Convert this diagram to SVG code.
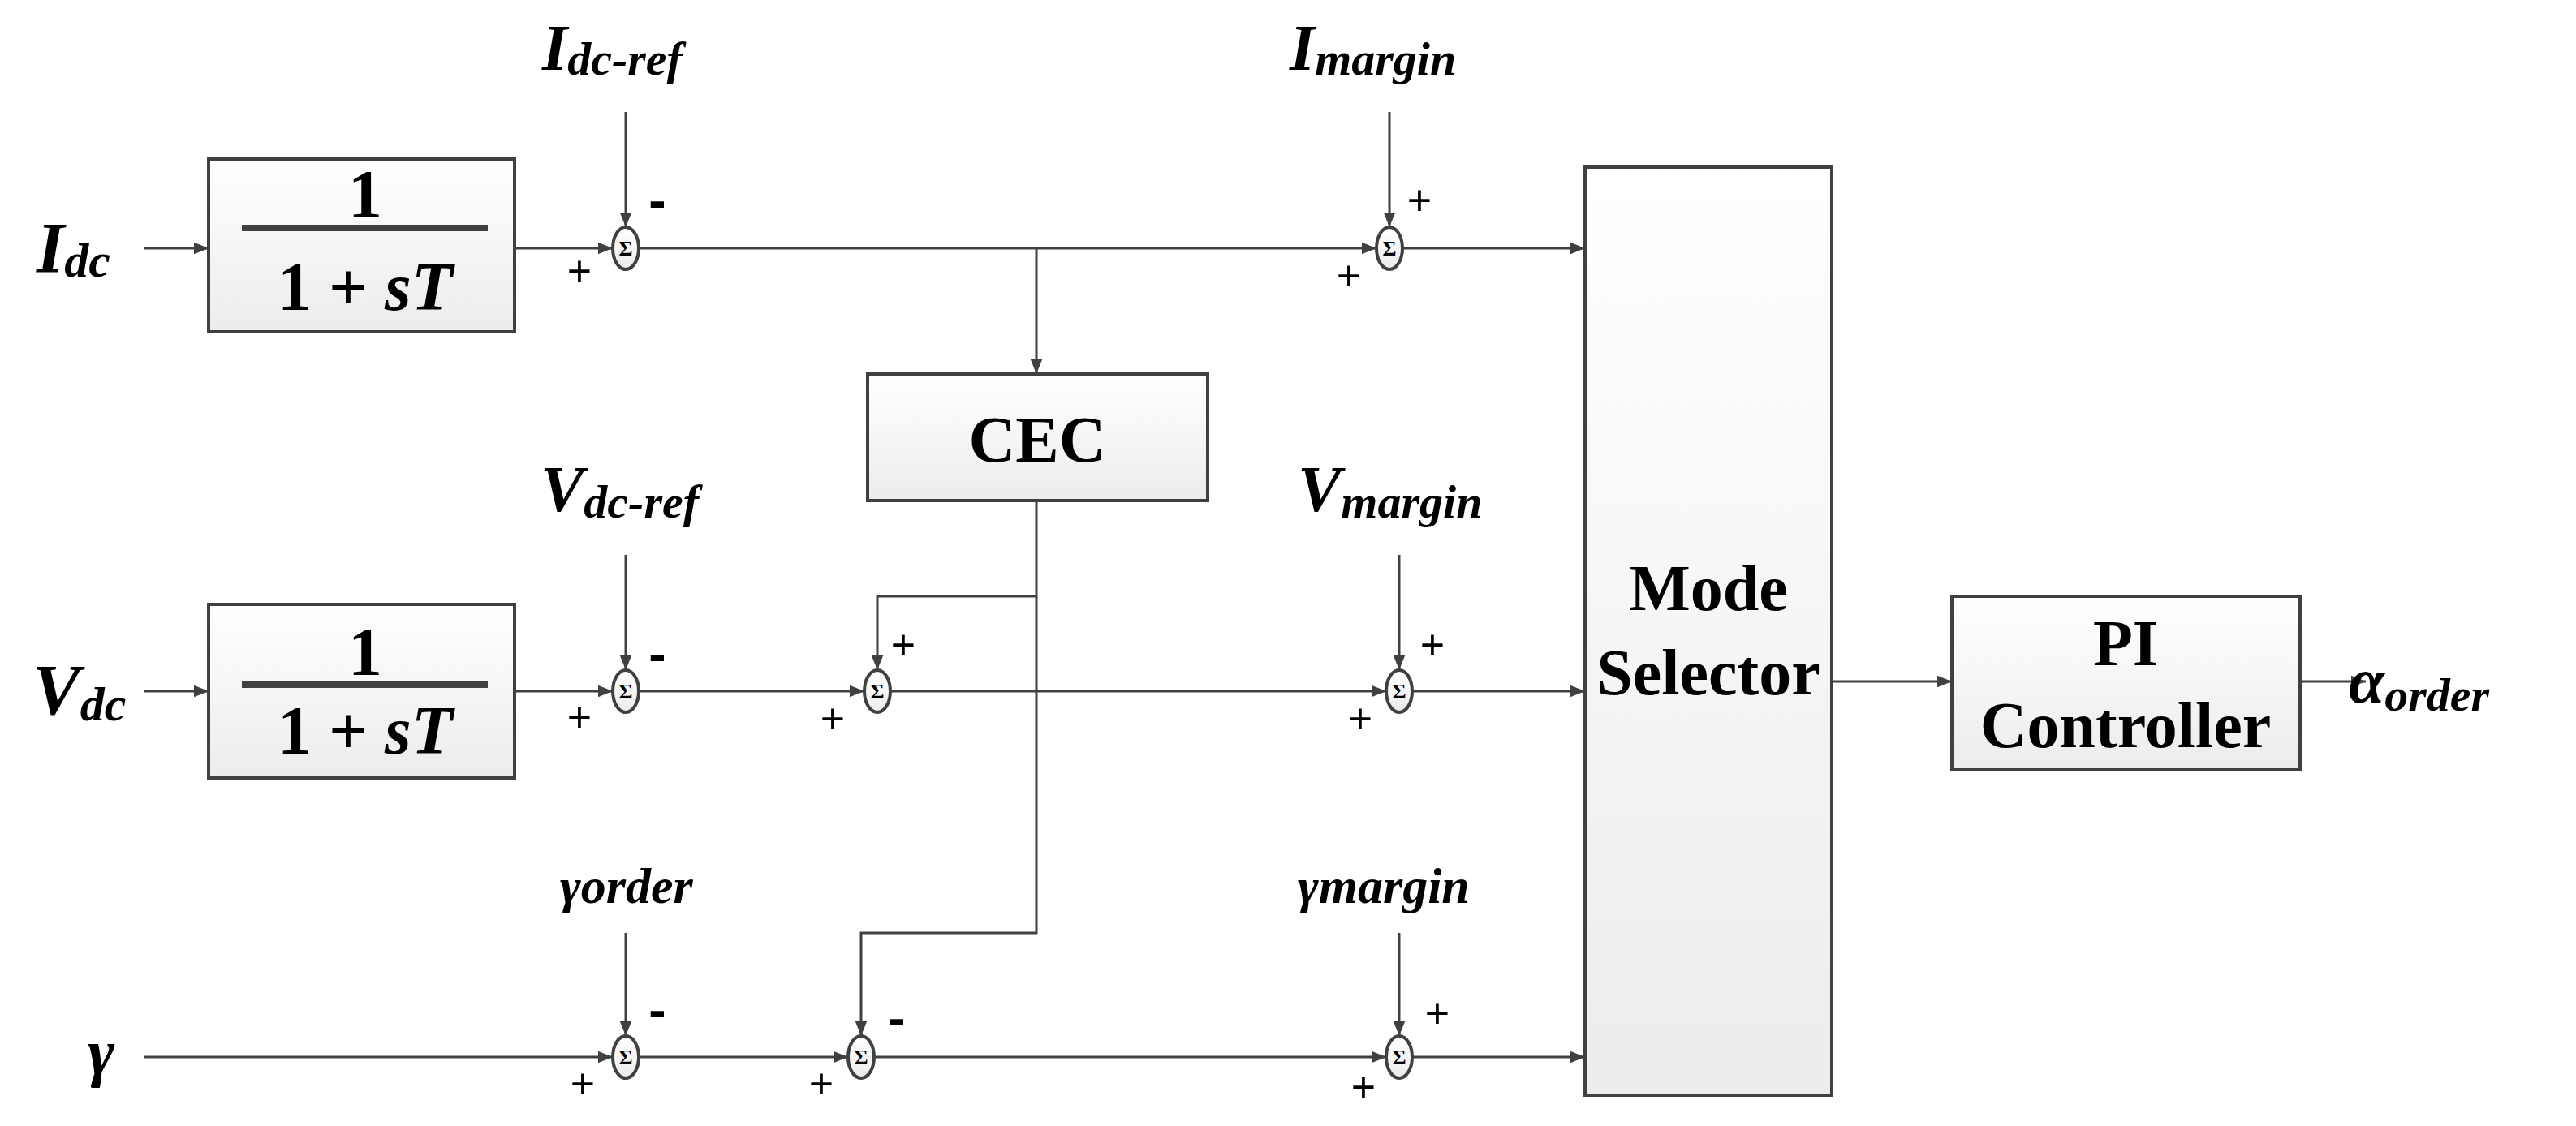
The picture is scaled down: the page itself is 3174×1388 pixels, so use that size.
<svg xmlns="http://www.w3.org/2000/svg" width="3174" height="1388" viewBox="0 0 3174 1388">
<defs>
<linearGradient id="g" x1="0" y1="0" x2="0" y2="1"><stop offset="0" stop-color="#ffffff"/><stop offset="1" stop-color="#ececec"/></linearGradient>
<marker id="a" viewBox="0 0 10 10" refX="10" refY="5" markerWidth="6" markerHeight="6" markerUnits="userSpaceOnUse" orient="auto"><path d="M0,0 L10,5 L0,10 Z" fill="#404040"/></marker>
<marker id="b" viewBox="0 0 10 10" refX="10" refY="5" markerWidth="18" markerHeight="18" markerUnits="userSpaceOnUse" orient="auto"><path d="M0,1 L10,5 L0,9 Z" fill="#404040"/></marker>
</defs>
<style>
.box{fill:url(#g);stroke:#404040;stroke-width:4}
.sum{fill:url(#g);stroke:#404040;stroke-width:4}
.ln{fill:none;stroke:#404040;stroke-width:3;marker-end:url(#b)}
.pl{fill:none;stroke:#404040;stroke-width:3}
.t{font-family:"Liberation Serif",serif;font-weight:bold;fill:#000}
.it{font-family:"Liberation Serif",serif;font-weight:bold;font-style:italic;fill:#000}
.sg{font-family:"Liberation Sans",sans-serif;fill:#000;font-size:52px;text-anchor:middle;dominant-baseline:central}
.sm{font-family:"Liberation Sans",sans-serif;font-weight:bold;fill:#000;font-size:64px;text-anchor:middle;dominant-baseline:central}
.sig{font-family:"Liberation Serif",serif;font-weight:bold;font-size:26px;text-anchor:middle;dominant-baseline:central}
</style>
<g id="connectors">
<line class="ln" x1="178" y1="306" x2="257" y2="306"/>
<line class="ln" x1="634" y1="306" x2="755" y2="306"/>
<line class="ln" x1="771" y1="138" x2="771" y2="280"/>
<line class="ln" x1="787" y1="306" x2="1696" y2="306"/>
<line class="ln" x1="1712" y1="138" x2="1712" y2="280"/>
<line class="ln" x1="1728" y1="306" x2="1953" y2="306"/>
<line class="ln" x1="1277" y1="306" x2="1277" y2="461"/>
<polyline class="ln" points="1277,617 1277,1150 1061,1150 1061,1277"/>
<polyline class="ln" points="1277,735 1081,735 1081,826"/>
<line class="ln" x1="178" y1="852" x2="257" y2="852"/>
<line class="ln" x1="634" y1="852" x2="755" y2="852"/>
<line class="ln" x1="771" y1="684" x2="771" y2="826"/>
<line class="ln" x1="787" y1="852" x2="1065" y2="852"/>
<line class="ln" x1="1097" y1="852" x2="1708" y2="852"/>
<line class="ln" x1="1724" y1="684" x2="1724" y2="826"/>
<line class="ln" x1="1740" y1="852" x2="1953" y2="852"/>
<line class="ln" x1="178" y1="1303" x2="755" y2="1303"/>
<line class="ln" x1="771" y1="1150" x2="771" y2="1277"/>
<line class="ln" x1="787" y1="1303" x2="1045" y2="1303"/>
<line class="ln" x1="1077" y1="1303" x2="1708" y2="1303"/>
<line class="ln" x1="1724" y1="1150" x2="1724" y2="1277"/>
<line class="ln" x1="1740" y1="1303" x2="1953" y2="1303"/>
<line class="ln" x1="2257" y1="840" x2="2405" y2="840"/>
<line class="ln" x1="2834" y1="840" x2="2915" y2="840"/>
</g>
<g id="lpf1"><rect class="box" x="257" y="196" width="377" height="213"/><line x1="298" y1="281" x2="601" y2="281" stroke="#404040" stroke-width="8"/>
<text class="t" x="450" y="268" font-size="84" text-anchor="middle">1</text>
<text class="t" x="450" y="382" font-size="84" text-anchor="middle">1 + <tspan font-style="italic">sT</tspan></text></g>
<g id="lpf2"><rect class="box" x="257" y="745" width="377" height="214"/><line x1="298" y1="844" x2="601" y2="844" stroke="#404040" stroke-width="8"/>
<text class="t" x="450" y="832" font-size="84" text-anchor="middle">1</text>
<text class="t" x="450" y="929" font-size="84" text-anchor="middle">1 + <tspan font-style="italic">sT</tspan></text></g>
<g id="cec"><rect class="box" x="1069" y="461" width="419" height="156"/><text class="t" x="1278" y="569" font-size="80" text-anchor="middle">CEC</text></g>
<g id="mode"><rect class="box" x="1953" y="206" width="304" height="1144"/>
<text class="t" x="2105" y="752" font-size="80" text-anchor="middle">Mode</text>
<text class="t" x="2105" y="856" font-size="80" text-anchor="middle">Selector</text></g>
<g id="pi"><rect class="box" x="2405" y="735" width="429" height="214"/>
<text class="t" x="2619" y="820" font-size="80" text-anchor="middle">PI</text>
<text class="t" x="2619" y="921" font-size="80" text-anchor="middle">Controller</text></g>
<g id="sums">
<ellipse class="sum" cx="771" cy="306" rx="16" ry="26"/><text class="sig" x="771" y="306">Σ</text>
<ellipse class="sum" cx="1712" cy="306" rx="16" ry="26"/><text class="sig" x="1712" y="306">Σ</text>
<ellipse class="sum" cx="771" cy="852" rx="16" ry="26"/><text class="sig" x="771" y="852">Σ</text>
<ellipse class="sum" cx="1081" cy="852" rx="16" ry="26"/><text class="sig" x="1081" y="852">Σ</text>
<ellipse class="sum" cx="1724" cy="852" rx="16" ry="26"/><text class="sig" x="1724" y="852">Σ</text>
<ellipse class="sum" cx="771" cy="1303" rx="16" ry="26"/><text class="sig" x="771" y="1303">Σ</text>
<ellipse class="sum" cx="1061" cy="1303" rx="16" ry="26"/><text class="sig" x="1061" y="1303">Σ</text>
<ellipse class="sum" cx="1724" cy="1303" rx="16" ry="26"/><text class="sig" x="1724" y="1303">Σ</text>
</g>
<g id="signs">
<text class="sm" x="810" y="247">-</text><text class="sg" x="714" y="334">+</text>
<text class="sg" x="1749" y="247">+</text><text class="sg" x="1662" y="340">+</text>
<text class="sm" x="810" y="806">-</text><text class="sg" x="714" y="884">+</text>
<text class="sg" x="1113" y="795">+</text><text class="sg" x="1026" y="886">+</text>
<text class="sg" x="1765" y="795">+</text><text class="sg" x="1676" y="886">+</text>
<text class="sm" x="810" y="1245">-</text><text class="sg" x="718" y="1336">+</text>
<text class="sm" x="1105" y="1255">-</text><text class="sg" x="1012" y="1336">+</text>
<text class="sg" x="1771" y="1249">+</text><text class="sg" x="1680" y="1340">+</text>
</g>
<g id="labels">
<text class="it" x="45" y="335" font-size="88">I<tspan font-size="60" dy="6">dc</tspan></text>
<text class="it" x="40" y="880" font-size="88">V<tspan font-size="60" dy="8">dc</tspan></text>
<text class="it" x="108" y="1324" font-size="80">γ</text>
<text class="it" x="668" y="86" font-size="80">I<tspan font-size="58" dy="6">dc-ref</tspan></text>
<text class="it" x="1589" y="86" font-size="80">I<tspan font-size="58" dy="6">margin</tspan></text>
<text class="it" x="666" y="630" font-size="80">V<tspan font-size="58" dy="8">dc-ref</tspan></text>
<text class="it" x="1599" y="630" font-size="80">V<tspan font-size="58" dy="8">margin</tspan></text>
<text class="it" x="690" y="1113" font-size="62">γorder</text>
<text class="it" x="1599" y="1113" font-size="62">γmargin</text>
<text class="it" x="2894" y="866" font-size="80">α<tspan font-size="58" dy="10">order</tspan></text>
</g>
</svg>
